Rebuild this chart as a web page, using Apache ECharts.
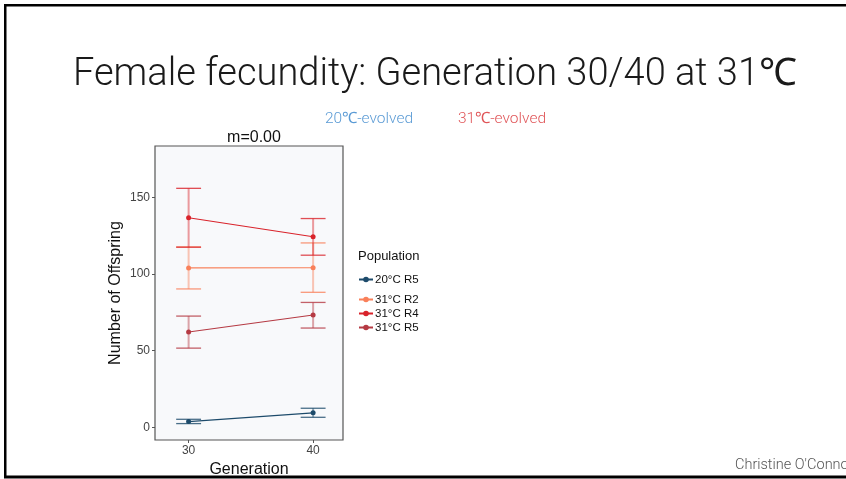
<!DOCTYPE html>
<html>
<head>
<meta charset="utf-8">
<script src="https://cdn.jsdelivr.net/npm/echarts@6/dist/echarts.min.js"></script>
<style>html,body{margin:0;padding:0;background:#fff;}#c{width:846px;height:479px;}</style>
</head>
<body>
<div id="c"></div>
<script>
const generations = [30, 40];
const seriesNames = ['20°C R5', '31°C R2', '31°C R4', '31°C R5'];
const mean20R5 = [3.7, 9.4];
const low20R5 = [2.4, 6.5];
const high20R5 = [5.2, 12.4];
const mean31R2 = [103.9, 104.0];
const low31R2 = [90.2, 88.0];
const high31R2 = [117.6, 120.2];
const mean31R4 = [136.6, 124.2];
const low31R4 = [117.4, 112.2];
const high31R4 = [155.8, 136.1];
const mean31R5 = [62.1, 73.2];
const low31R5 = [51.6, 64.7];
const high31R5 = [72.5, 81.4];
const yTicks = [0, 50, 100, 150];
const xTicks = [30, 40];
const colors = ['#1d4b6b', '#f9805a', '#d9232b', '#b53a43'];

const means = [mean20R5, mean31R2, mean31R4, mean31R5];
const lows = [low20R5, low31R2, low31R4, low31R5];
const highs = [high20R5, high31R2, high31R4, high31R5];

const chart = echarts.init(document.getElementById('c'));

const errSeries = seriesNames.map((name, i) => ({
  type: 'custom',
  name: name + ' (error)',
  z: 1,
  silent: true,
  itemStyle: { color: colors[i] },
  data: generations.map((g, k) => [g, lows[i][k], highs[i][k]]),
  renderItem: function (params, api) {
    const x = api.value(0);
    const lo = api.coord([x, api.value(1)]);
    const hi = api.coord([x, api.value(2)]);
    const hw = api.size([1, 0])[0] * 1.0;
    return {
      type: 'group',
      children: [
        { type: 'line', shape: { x1: lo[0], y1: lo[1], x2: hi[0], y2: hi[1] },
          style: { stroke: colors[i], lineWidth: 2, opacity: 0.45 } },
        { type: 'line', shape: { x1: lo[0] - hw, y1: lo[1], x2: lo[0] + hw, y2: lo[1] },
          style: { stroke: colors[i], lineWidth: 1.3, opacity: 0.8 } },
        { type: 'line', shape: { x1: hi[0] - hw, y1: hi[1], x2: hi[0] + hw, y2: hi[1] },
          style: { stroke: colors[i], lineWidth: 1.3, opacity: 0.8 } }
      ]
    };
  }
}));

const lineSeries = seriesNames.map((name, i) => ({
  type: 'line',
  name: name,
  z: 3,
  data: generations.map((g, k) => [g, means[i][k]]),
  symbol: 'circle',
  symbolSize: 5,
  lineStyle: { color: colors[i], width: 1.1 },
  itemStyle: { color: colors[i] },
  animation: false
}));

const fontMain = 'Liberation Sans, Arial, sans-serif';
const fontLight = 'Roboto, Liberation Sans, sans-serif';

const legendText = { fontFamily: fontMain, fontSize: 11.5, color: '#111', padding: [0, 0, 0, -3], lineHeight: 13 };

chart.setOption({
  animation: false,
  backgroundColor: '#ffffff',
  title: [
    { text: 'Female fecundity: Generation 30/40 at 31℃', left: 430, top: 51, textAlign: 'center',
      textStyle: { fontFamily: fontLight, fontWeight: 300, fontSize: 38, color: '#1a1a1a' } },
    { text: '20℃-evolved', left: 364, top: 106, textAlign: 'center',
      textStyle: { fontFamily: fontLight, fontWeight: 300, fontSize: 15.5, color: '#5b9bd5' } },
    { text: '31℃-evolved', left: 497, top: 106, textAlign: 'center',
      textStyle: { fontFamily: fontLight, fontWeight: 300, fontSize: 15.5, color: '#e05558' } },
    { text: 'm=0.00', left: 249, top: 125, textAlign: 'center',
      textStyle: { fontFamily: fontMain, fontWeight: 'normal', fontSize: 16, color: '#111' } }
  ],
  graphic: [
    { type: 'rect', shape: { x: 4, y: 4, width: 842, height: 2.5 }, style: { fill: '#000' } },
    { type: 'rect', shape: { x: 4, y: 4, width: 2.5, height: 474 }, style: { fill: '#000' } },
    { type: 'rect', shape: { x: 4, y: 475.5, width: 842, height: 3 }, style: { fill: '#000' } },
    { type: 'text', left: 735, top: 458, style: { text: "Christine O'Connor", fontFamily: fontLight, fontWeight: 300, fontSize: 14.5, fill: '#555' } },
    { type: 'text', left: 358, top: 250, style: { text: 'Population', fontFamily: fontMain, fontSize: 13, fill: '#111' } }
  ],
  legend: [
    { data: [seriesNames[0]], orient: 'vertical', left: 358, top: 273, padding: 0, itemWidth: 14, itemHeight: 7, itemGap: 1,
      textStyle: legendText, selectedMode: false },
    { data: seriesNames.slice(1), orient: 'vertical', left: 358, top: 293, padding: 0, itemWidth: 14, itemHeight: 7, itemGap: 1,
      textStyle: legendText, selectedMode: false }
  ],
  grid: { left: 155, right: 503, top: 146, bottom: 39, outerBoundsMode: 'none', containLabel: false,
    show: true, backgroundColor: '#f8f9fb', borderColor: '#555', borderWidth: 1.2 },
  xAxis: {
    type: 'value', min: 27.3, max: 42.4,
    name: 'Generation', nameLocation: 'middle', nameGap: 21,
    nameTextStyle: { fontFamily: fontMain, fontSize: 16, color: '#111' },
    axisLine: { show: false, onZero: false },
    splitLine: { show: false },
    axisTick: { show: true, customValues: xTicks, length: 3, lineStyle: { color: '#555' } },
    axisLabel: { customValues: xTicks, fontFamily: fontMain, fontSize: 12, color: '#444', margin: 5 }
  },
  yAxis: {
    type: 'value', min: -8.3, max: 183.4,
    name: 'Number of Offspring', nameLocation: 'middle', nameGap: 31,
    nameTextStyle: { fontFamily: fontMain, fontSize: 16, color: '#111' },
    axisLine: { show: false, onZero: false },
    splitLine: { show: false },
    axisTick: { show: true, customValues: yTicks, length: 3, lineStyle: { color: '#555' } },
    axisLabel: { customValues: yTicks, fontFamily: fontMain, fontSize: 12, color: '#444', margin: 5 }
  },
  series: errSeries.concat(lineSeries)
});
</script>
</body>
</html>
